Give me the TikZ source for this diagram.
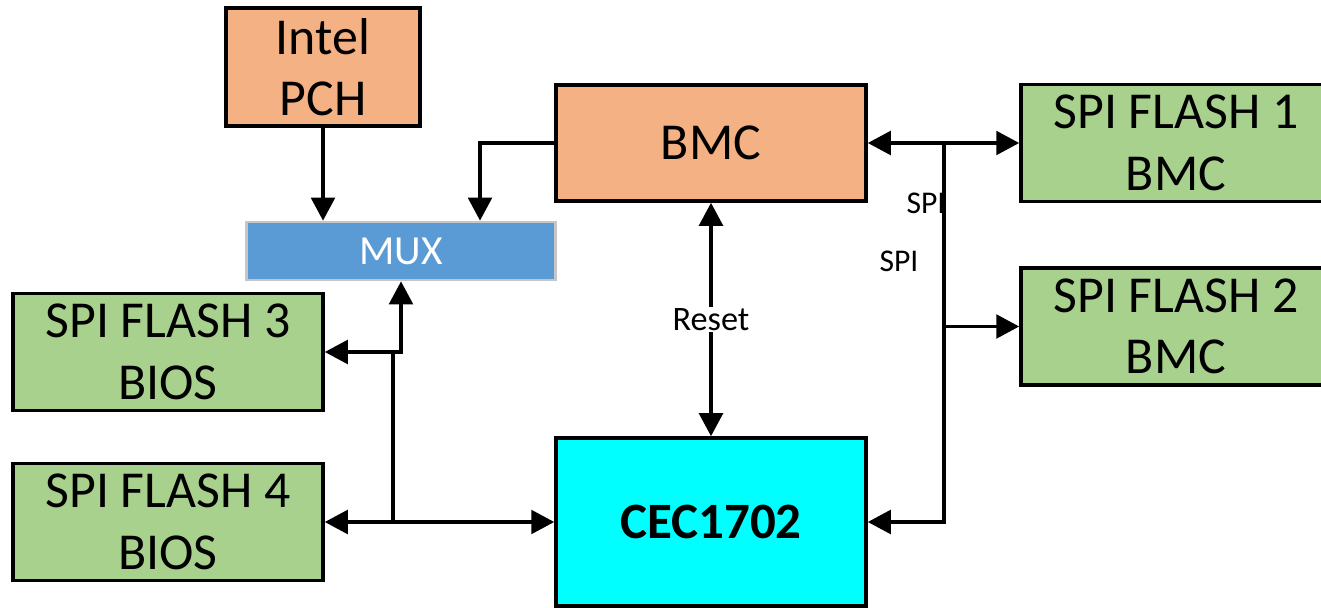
\documentclass[tikz,border=0pt]{standalone}
\usepackage{fontspec}
\setmainfont{Carlito}
\usetikzlibrary{arrows.meta}

\definecolor{salmone}{HTML}{F4B183}
\definecolor{verde}{HTML}{A9D18E}
\definecolor{azzurro}{HTML}{5B9BD5}
\definecolor{ciano}{HTML}{00FFFF}

\tikzset{
  blocco/.style={draw=black, line width=2pt, minimum width=6.2cm, minimum height=2.34cm,
    align=center, inner sep=0pt, font=\fontsize{29.5}{35}\selectfont},
  punta/.tip={Triangle[length=0.46cm,width=0.47cm]},
  filo/.style={line width=2.2pt},
  freccia/.style={filo, -punta},
  doppia/.style={filo, punta-punta},
  etichetta/.style={inner sep=1pt, font=\fontsize{18}{22}\selectfont}
}

\begin{document}
\begin{tikzpicture}[line join=miter]

\useasboundingbox (0,0) rectangle (26.42,-12.16);
\clip (0,0) rectangle (26.42,-12.16);

% Blocchi
\node[blocco, fill=salmone, minimum width=3.88cm, minimum height=2.36cm] (pch) at (6.46,-1.34) {Intel\\PCH};
\node[blocco, fill=salmone, minimum height=2.32cm] (bmc) at (14.22,-2.86) {BMC};
\node[draw=gray!45, line width=1.5pt, fill=azzurro, text=white, minimum width=6.18cm,
  minimum height=1.16cm, font=\fontsize{23.5}{27}\selectfont] (mux) at (8.02,-5.02) {MUX};
\node[blocco, fill=verde] (flash1) at (23.52,-2.86) {SPI FLASH 1\\BMC};
\node[blocco, fill=verde] (flash2) at (23.52,-6.53) {SPI FLASH 2\\BMC};
\node[blocco, fill=verde] (flash3) at (3.36,-7.04) {SPI FLASH 3\\BIOS};
\node[blocco, fill=verde] (flash4) at (3.36,-10.44) {SPI FLASH 4\\BIOS};
\node[blocco, fill=ciano, minimum height=3.36cm, font=\fontsize{29}{35}\selectfont\bfseries] (cec) at (14.22,-10.44) {CEC1702};

% Punti di appoggio
\coordinate (bmcmux) at (9.6,-2.86);
\coordinate (nodo3) at (7.86,-7.04);
\coordinate (nodo4) at (7.86,-10.44);
\coordinate (bus) at (18.88,-2.86);

% Ingressi del MUX
\draw[freccia] (pch.south) -- (pch |- mux.north);
\draw[freccia] (bmc.west) -| (bmcmux |- mux.north);

% Flash BIOS
\draw[doppia] (flash3.east) -| (mux.south);
\draw[filo] (nodo3) -- (nodo4);
\draw[doppia] (flash4.east) -- (cec.west);

% Reset
\draw[doppia] (bmc.south) -- (cec.north)
  node[midway, fill=white, etichetta, font=\fontsize{19.5}{23}\selectfont] (reset) {Reset};

% Bus SPI
\node[etichetta] (spi1) at (18.52,-4.06) {SPI};
\node[etichetta] (spi2) at (17.98,-5.22) {SPI};
\draw[doppia] (bmc.east) -- (flash1.west);
\draw[freccia] (bus) |- (cec.east);
\draw[freccia] (bus |- flash2.west) -- (flash2.west);

\end{tikzpicture}
\end{document}
